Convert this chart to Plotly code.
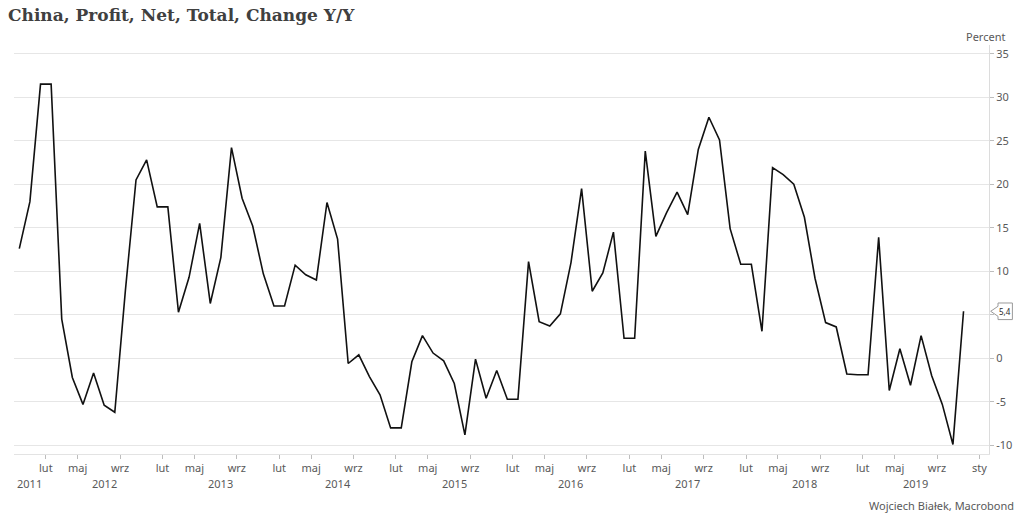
import plotly.graph_objects as go

# ---- data (monthly, January not published: Feb carries the Dec value) ----
periods = (["2011-10", "2011-11", "2011-12"]
           + [f"{y}-{m:02d}" for y in range(2012, 2019) for m in range(2, 13)]
           + [f"2019-{m:02d}" for m in range(2, 12)])
values = [12.6, 18.0, 31.5,
          31.5, 4.5, -2.2, -5.3, -1.7, -5.4, -6.2, 7.8, 20.5, 22.8, 17.4,
          17.4, 5.3, 9.3, 15.5, 6.3, 11.6, 24.2, 18.4, 15.2, 9.7, 6.0,
          6.0, 10.7, 9.6, 9.0, 17.9, 13.7, -0.6, 0.4, -2.1, -4.2, -8.0,
          -8.0, -0.4, 2.6, 0.6, -0.3, -2.9, -8.8, -0.1, -4.6, -1.4, -4.7,
          -4.7, 11.1, 4.2, 3.7, 5.1, 11.0, 19.5, 7.7, 9.8, 14.5, 2.3,
          2.3, 23.8, 14.0, 16.7, 19.1, 16.5, 24.0, 27.7, 25.1, 14.9, 10.8,
          10.8, 3.1, 21.9, 21.1, 20.0, 16.2, 9.2, 4.1, 3.6, -1.8, -1.9,
          -1.9, 13.9, -3.7, 1.1, -3.1, 2.6, -2.0, -5.3, -9.9, 5.4]
month_names = {2: "lut", 5: "maj", 9: "wrz"}
end_tick_label = "sty"
y_ticks = [-10, -5, 0, 5, 10, 15, 20, 25, 30, 35]
title = "China, Profit, Net, Total, Change Y/Y"
unit = "Percent"
source = "Wojciech Białek, Macrobond"

GRAY = "#595959"
FONT = "Noto Sans"

x = list(range(len(values)))
n = len(values)

# month ticks at period starts (boundary before the point)
tickvals, ticktext = [], []
for i, p in enumerate(periods):
    m = int(p[5:])
    if m in month_names:
        tickvals.append(i - 0.5)
        ticktext.append(month_names[m])
tickvals.append(n + 0.5)   # start of next January after (missing) December
ticktext.append(end_tick_label)

# year label centres
years = sorted(set(p[:4] for p in periods))
year_pos = []
for yr in years:
    idx = [i for i, p in enumerate(periods) if p[:4] == yr]
    year_pos.append(((idx[0] - 0.5) + (idx[-1] + 0.5)) / 2)

fig = go.Figure()
fig.add_trace(go.Scatter(x=x, y=values, mode="lines",
                         line=dict(color="#111111", width=1.6),
                         hoverinfo="skip", showlegend=False))

annotations = []
for yr, xp in zip(years, year_pos):
    annotations.append(dict(x=xp, y=-0.0716, xref="x", yref="paper", text=yr,
                            showarrow=False, xanchor="center", yanchor="middle",
                            font=dict(family=FONT, size=11, color=GRAY)))
annotations.append(dict(x=0.9959, y=1.022, xref="paper", yref="paper", text=unit,
                        showarrow=False, xanchor="center", yanchor="middle",
                        font=dict(family=FONT, size=11, color=GRAY)))
annotations.append(dict(x=1.0225, y=-0.1247, xref="paper", yref="paper", text=source,
                        showarrow=False, xanchor="right", yanchor="middle", xshift=5,
                        font=dict(family=FONT, size=11, color=GRAY)))
last = values[-1]
annotations.append(dict(x=1, y=last, xref="paper", yref="y", xshift=16,
                        text=f"{last:.1f}".replace(".", ","), showarrow=False,
                        xanchor="center", yanchor="middle",
                        font=dict(family=FONT, size=8, color="#262626")))

shapes = [dict(type="path", xref="paper", yref="y", xsizemode="pixel", ysizemode="pixel",
               xanchor=1, yanchor=last,
               path="M 1.7,0 L 9,5 L 9,8.3 L 23.4,8.3 L 23.4,-8.3 L 9,-8.3 L 9,-5 Z",
               line=dict(color="#9a9a9a", width=1), fillcolor="white", layer="above")]

fig.update_layout(
    width=1024, height=520, autosize=False,
    margin=dict(l=14, r=32, t=45, b=66),
    paper_bgcolor="white", plot_bgcolor="white",
    title=dict(text=f"<b>{title}</b>", x=8 / 1024, y=1 - 15 / 520,
               xref="container", yref="container", xanchor="left", yanchor="middle",
               font=dict(family="DejaVu Serif", size=17, color="#404040")),
    xaxis=dict(range=[-0.5, n + 1.4], tickvals=tickvals, ticktext=ticktext,
               showgrid=False, zeroline=False, showline=True, linecolor="#e3e3e3",
               linewidth=1, ticks="outside", ticklen=4, tickcolor="#bdbdbd",
               tickfont=dict(family=FONT, size=11, color=GRAY)),
    yaxis=dict(range=[-11, 36], side="right", tickvals=y_ticks,
               ticktext=["" if v == 5 else str(v) for v in y_ticks],
               showgrid=True, gridcolor="#e6e6e6", gridwidth=1, zeroline=False,
               showline=True, linecolor="#dcdcdc", linewidth=1,
               ticks="outside", ticklen=4, tickcolor="#bdbdbd",
               tickfont=dict(family=FONT, size=11, color=GRAY)),
    annotations=annotations, shapes=shapes,
)

fig.write_html("out.html")
